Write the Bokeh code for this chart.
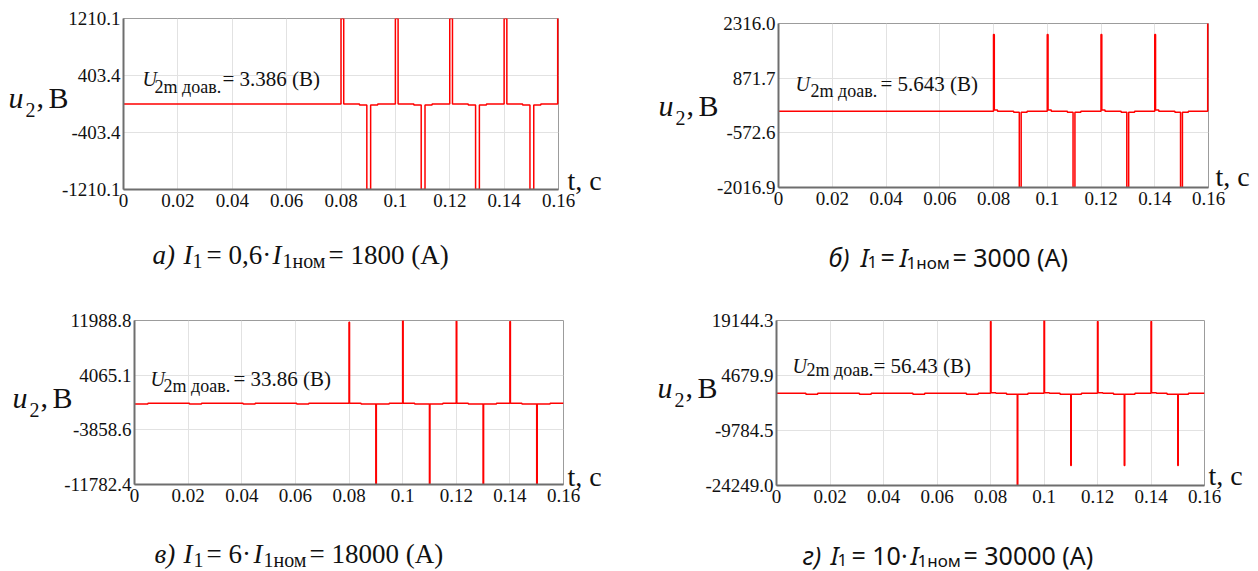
from bokeh.plotting import figure
from bokeh.models import Range1d, FixedTicker, PrintfTickFormatter, Label, ColumnDataSource, GridBox, Column
from bokeh.embed import file_html
from bokeh.resources import INLINE

# ---------------- data ----------------
x_tick_labels = ["0", "0.02", "0.04", "0.06", "0.08", "0.1", "0.12", "0.14", "0.16"]
t_end = 0.16

# panel а) I1 = 0,6*I1nom
a_ytick_labels = ["-1210.1", "-403.4", "403.4", "1210.1"]
a_t0 = [0.0800, 0.0868, 0.0895, 0.0909, 0.1000, 0.1068, 0.1095, 0.1109,
        0.1200, 0.1268, 0.1295, 0.1309, 0.1400, 0.1468, 0.1495, 0.1509, 0.1597]
a_t1 = [0.0810, 0.0895, 0.0909, 0.0935, 0.1010, 0.1095, 0.1109, 0.1135,
        0.1210, 0.1295, 0.1309, 0.1335, 0.1410, 0.1495, 0.1509, 0.1535, 0.1600]
a_u = [1210.1, -15, -1210.1, -15, 1210.1, -15, -1210.1, -15,
       1210.1, -15, -1210.1, -15, 1210.1, -15, -1210.1, -15, 1210.1]

# panel б) I1 = I1nom
b_ytick_labels = ["-2016.9", "-572.6", "871.7", "2316.0"]
b_t0 = [0.0800, 0.0803, 0.0875, 0.0896, 0.0903,
        0.1000, 0.1003, 0.1075, 0.1096, 0.1103,
        0.1200, 0.1203, 0.1275, 0.1296, 0.1303,
        0.1400, 0.1403, 0.1475, 0.1496, 0.1503, 0.1597]
b_t1 = [0.0803, 0.0815, 0.0896, 0.0903, 0.0925,
        0.1003, 0.1015, 0.1096, 0.1103, 0.1125,
        0.1203, 0.1215, 0.1296, 0.1303, 0.1325,
        0.1403, 0.1415, 0.1496, 0.1503, 0.1525, 0.1600]
b_u = [2026, 30, -30, -2016.9, -30,
       2026, 30, -30, -2016.9, -30,
       2026, 30, -30, -2016.9, -30,
       2026, 30, -30, -2016.9, -30, 2316.0]

# panel в) I1 = 6*I1nom
c_ytick_labels = ["-11782.4", "-3858.6", "4065.1", "11988.8"]
c_t0 = [0.0000, 0.0205, 0.0405, 0.0605,
        0.0800, 0.0845, 0.0900, 0.0902,
        0.1000, 0.1045, 0.1100, 0.1102,
        0.1200, 0.1245, 0.1300, 0.1302,
        0.1400, 0.1445, 0.1500, 0.1502]
c_t1 = [0.0050, 0.0250, 0.0450, 0.0650,
        0.0802, 0.0900, 0.0902, 0.0950,
        0.1002, 0.1100, 0.1102, 0.1150,
        0.1202, 0.1300, 0.1302, 0.1350,
        0.1402, 0.1500, 0.1502, 0.1550]
c_u = [-100, -100, -100, -100,
       11740, -100, -11782.4, -100,
       11988.8, -100, -11782.4, -100,
       11880, -100, -11782.4, -100,
       11840, -100, -11782.4, -100]

# panel г) I1 = 10*I1nom
d_ytick_labels = ["-24249.0", "-9784.5", "4679.9", "19144.3"]
d_t0 = [0.0110, 0.0310, 0.0510, 0.0710,
        0.0800, 0.0802, 0.0860, 0.0900, 0.0902,
        0.1000, 0.1002, 0.1060, 0.1100, 0.1102,
        0.1200, 0.1202, 0.1260, 0.1300, 0.1302,
        0.1400, 0.1402, 0.1460, 0.1500, 0.1502]
d_t1 = [0.0154, 0.0354, 0.0554, 0.0754,
        0.0802, 0.0820, 0.0900, 0.0902, 0.0940,
        0.1002, 0.1020, 0.1100, 0.1102, 0.1140,
        0.1202, 0.1220, 0.1300, 0.1302, 0.1340,
        0.1402, 0.1420, 0.1500, 0.1502, 0.1540]
d_u = [-260, -260, -260, -260,
       18880, 150, -260, -24249.0, -260,
       19144.3, 150, -260, -18990, -260,
       18880, 150, -260, -18990, -260,
       18880, 150, -260, -18990, -260]


def step_series(t0s, t1s, levels, t_last):
    xs, ys = [0.0], [0.0]
    for a, b, v in zip(t0s, t1s, levels):
        if a - xs[-1] > 1e-9:
            if ys[-1] != 0.0:
                xs.append(xs[-1]); ys.append(0.0)
            xs.append(a); ys.append(0.0)
        xs.append(a); ys.append(v)
        xs.append(b); ys.append(v)
    xs.append(xs[-1]); ys.append(0.0)
    xs.append(t_last); ys.append(0.0)
    return xs, ys


SERIF = "Liberation Serif"
SANS = "Noto Sans"
INK = "#111111"


def make_panel(t0s, t1s, levels, ytick_labels, fw, fh, bl, br, bt, bb):
    yt = [float(s) for s in ytick_labels]
    xt = [float(s) for s in x_tick_labels]
    p = figure(frame_width=fw, frame_height=fh, output_backend="svg", toolbar_location=None,
               x_range=Range1d(0, t_end), y_range=Range1d(yt[0], yt[-1]),
               min_border_left=bl, min_border_right=br, min_border_top=bt, min_border_bottom=bb)
    p.background_fill_color = "white"
    p.border_fill_color = "white"
    p.outline_line_color = "#9c9c9c"
    p.outline_line_width = 1
    p.xaxis.ticker = FixedTicker(ticks=xt)
    p.xaxis.major_label_overrides = {v: s for v, s in zip(xt, x_tick_labels)}
    p.yaxis.ticker = FixedTicker(ticks=yt)
    p.yaxis.formatter = PrintfTickFormatter(format="%.1f")
    for ax in (p.xaxis[0], p.yaxis[0]):
        ax.axis_line_color = "#6e6e6e"
        ax.axis_line_width = 2
        ax.major_tick_line_color = None
        ax.minor_tick_line_color = None
        ax.major_tick_in = 0
        ax.major_tick_out = 0
        ax.major_label_text_font = SERIF
        ax.major_label_text_font_size = "19px"
        ax.major_label_text_color = INK
    p.xaxis.major_label_standoff = 4
    p.yaxis.major_label_standoff = 3
    p.xgrid.grid_line_color = "#e2e2e2"
    p.ygrid.grid_line_color = "#e2e2e2"
    xs, ys = step_series(t0s, t1s, levels, t_end)
    src = ColumnDataSource(dict(t=xs, u=ys))
    p.line("t", "u", source=src, color="#ff0000", line_width=1.5)
    return p


# four panels (page pixels: a at (0,0), b at (637,0), в at (0,298), г at (637,298))
pa = make_panel(a_t0, a_t1, a_u, a_ytick_labels, 435, 171, 123, 79, 18, 109)
pb = make_panel(b_t0, b_t1, b_u, b_ytick_labels, 430, 164, 141, 50, 23, 111)
pc = make_panel(c_t0, c_t1, c_u, c_ytick_labels, 429, 164, 134, 74, 22, 87)
pd_ = make_panel(d_t0, d_t1, d_u, d_ytick_labels, 428, 165, 139, 54, 22, 86)

# transparent text layer over the whole page, in page pixels (y down)
ov = figure(width=1258, height=571, x_range=Range1d(0, 1258), y_range=Range1d(571, 0),
            x_axis_type=None, y_axis_type=None, toolbar_location=None, output_backend="svg",
            min_border=0)
ov.outline_line_color = None
ov.background_fill_alpha = 0
ov.border_fill_alpha = 0
ov.grid.visible = False

BASE_SHIFT = 0.42  # label anchor correction (em) so that y is the text baseline


def put(pieces):
    for text, x, y, size, font, style in pieces:
        ov.add_layout(Label(x=x, y=y - BASE_SHIFT * size, text=text, text_font=font,
                            text_font_size=f"{size}px", text_font_style=style,
                            text_baseline="alphabetic", text_align="left", text_color=INK))


def ylabel(x, y):
    return [("u", x, y, 30, SERIF, "italic"),
            ("2", x + 17, y + 8, 20, SERIF, "normal"),
            (",", x + 28, y, 30, SERIF, "normal"),
            ("В", x + 40, y, 30, SERIF, "normal")]


def ulabel(x_u, x_sub, x_eq, y, y_sub, value):
    return [("U", x_u, y, 20, SERIF, "italic"),
            ("2m доав.", x_sub, y_sub, 18, SERIF, "normal"),
            ("= " + value + " (В)", x_eq, y, 21, SERIF, "normal")]


def caption(font, size, sub, items, y, dy):
    out = []
    for text, x, kind in items:
        if kind == "i":
            out.append((text, x, y, size, font, "italic"))
        elif kind == "s":
            out.append((text, x, y + dy, sub, font, "normal"))
        else:
            out.append((text, x, y, size, font, "normal"))
    return out


put(ylabel(8, 110) + [("t, c", 567, 192, 28, SERIF, "normal")]
    + ulabel(142, 154, 222, 87, 94, "3.386")
    + caption(SERIF, 27, 20, [("а)", 152, "i"), ("I", 183, "i"), ("1", 192, "s"),
                              ("= 0,6·", 206, "n"), ("I", 272, "i"), ("1ном", 282, "s"),
                              ("= 1800 (А)", 328, "n")], 266, 3))
put(ylabel(658, 118) + [("t, c", 1215, 188, 28, SERIF, "normal")]
    + ulabel(795, 810, 880, 92, 98, "5.643")
    + caption(SANS, 25, 17, [("б)", 828, "i"), ("I", 860, "i"), ("1", 867, "s"),
                             ("=", 880, "n"), ("I", 899, "i"), ("1ном", 906, "s"),
                             ("= 3000 (А)", 952, "n")], 267, 2))
put(ylabel(12, 410) + [("t, c", 567, 488, 28, SERIF, "normal")]
    + ulabel(150, 163, 233, 387, 393, "33.86")
    + caption(SERIF, 27, 20, [("в)", 154, "i"), ("I", 183, "i"), ("1", 193, "s"),
                              ("= 6·", 206, "n"), ("I", 253, "i"), ("1ном", 263, "s"),
                              ("= 18000 (А)", 309, "n")], 565, 3))
put(ylabel(657, 400) + [("t, c", 1208, 487, 28, SERIF, "normal")]
    + ulabel(792, 806, 873, 374, 377, "56.43")
    + caption(SANS, 25, 17, [("г)", 802, "i"), ("I", 830, "i"), ("1", 837, "s"),
                             ("= 10·", 851, "n"), ("I", 910, "i"), ("1ном", 917, "s"),
                             ("= 30000 (А)", 963, "n")], 565, 2))

# each plot in its own box so that the grid does not align their frames
cells = [(Column(children=[pa]), 0, 0), (Column(children=[pb]), 0, 1),
         (Column(children=[pc]), 1, 0), (Column(children=[pd_]), 1, 1),
         (Column(children=[ov]), 0, 0, 2, 2)]
layout = GridBox(children=cells)
open("out.html", "w").write(file_html(layout, INLINE))
